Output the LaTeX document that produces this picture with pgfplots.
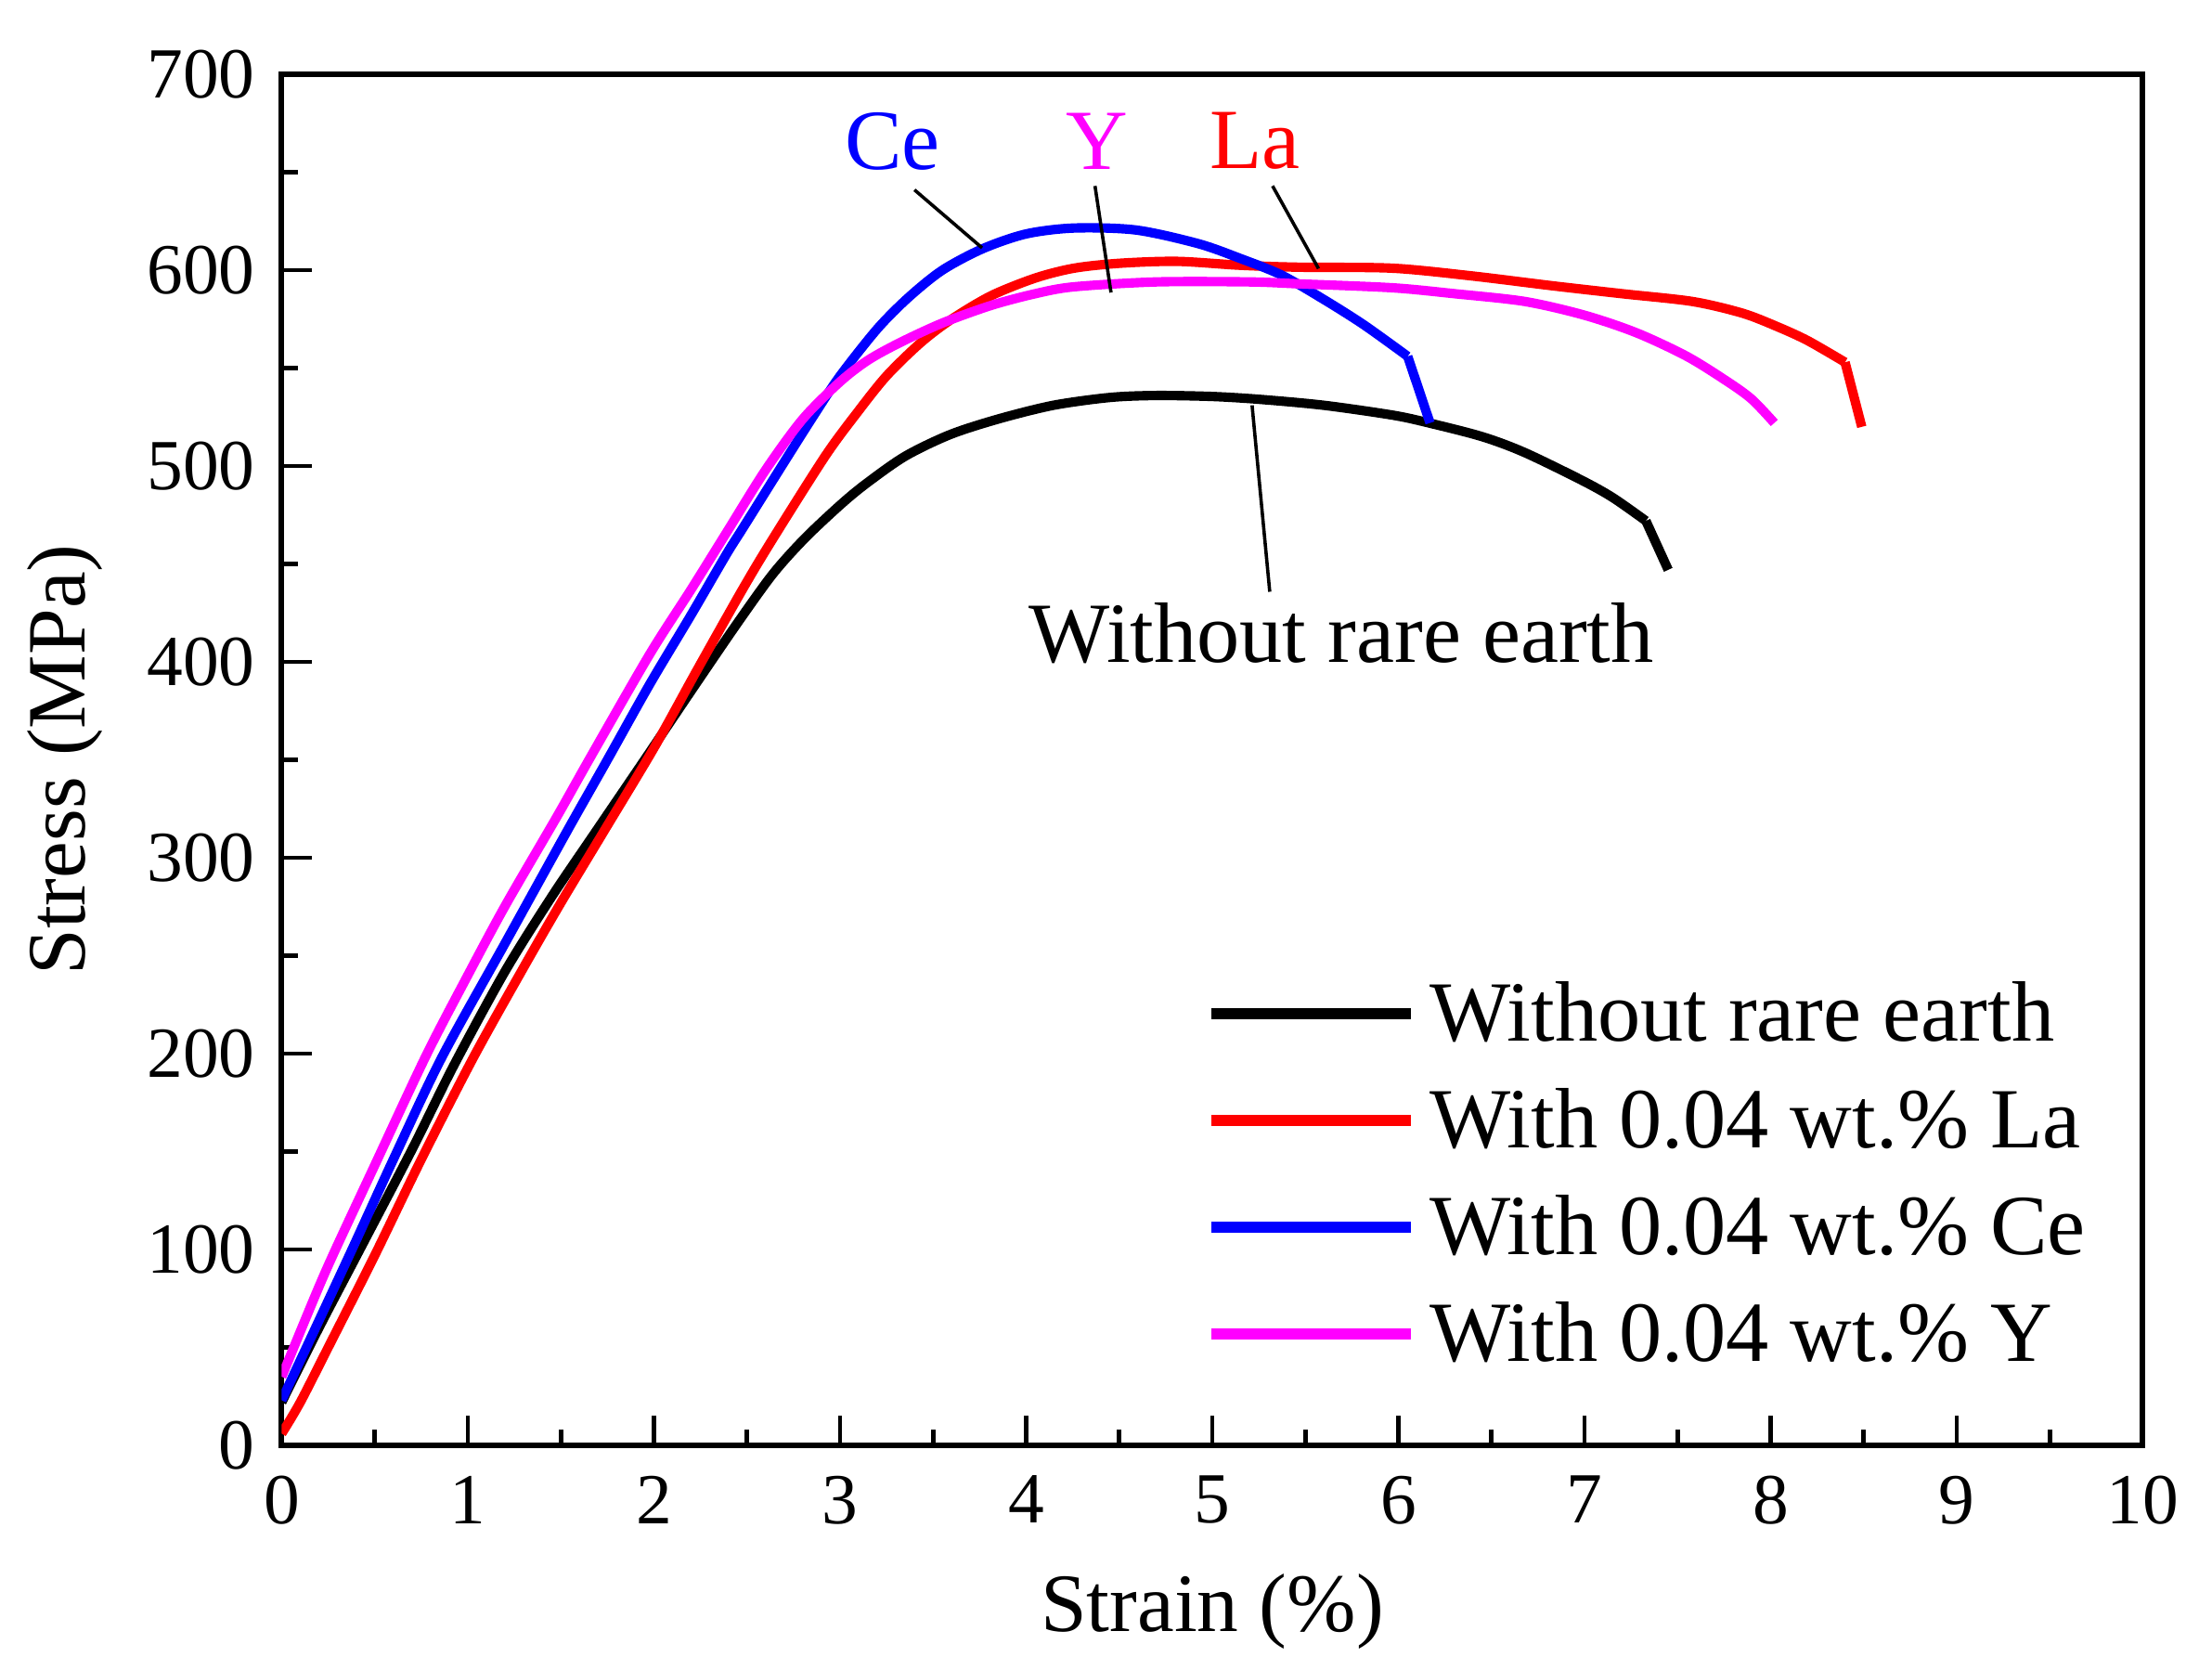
\documentclass[border=0pt]{standalone}
\usepackage{fontspec}
\setmainfont{Liberation Serif}
\usepackage{pgfplots}
\usepackage{pgfplotstable}
\pgfplotsset{compat=1.18}
\definecolor{cblack}{RGB}{0,0,0}
\definecolor{cred}{RGB}{255,0,0}
\definecolor{cblue}{RGB}{0,0,255}
\definecolor{cmag}{RGB}{255,0,255}

\pgfplotstableread{
x y
0 22
0.2 60
0.42 100
0.7 151
0.925 194
1.2 242
1.45 280
1.678 312
1.95 350
2.227 389
2.45 420
2.64 445
2.81 463
3.0 480
3.14 491
3.35 505
3.59 516
3.85 524
4.146 531
4.45 535
4.70 536
5.0 535.5
5.26 534
5.6 531
5.968 526
6.164 522
6.45 515
6.676 507
6.98 493
7.15 484
7.33 472
}\blackdata

\pgfplotstableread{
x y
0 6
0.1 22
0.25 50
0.5 97
0.75 146
1.03 198
1.3 244
1.5 277
1.728 313
2.0 356
2.227 395
2.476 437
2.64 463
2.92 505
3.09 527
3.25 546
3.434 563
3.6 575
3.813 587
4.05 596
4.257 601
4.5 603.5
4.81 604.5
5.15 602.5
5.468 601.5
5.968 601
6.4 597
6.83 592
7.2 588
7.58 584
7.85 578
8.04 571
8.2 564
8.4 553
}\reddata

\pgfplotstableread{
x y
0 23
0.187 61
0.378 100
0.6 146
0.86 198
1.204 257
1.53 313
1.75 350
1.98 389
2.2 424
2.39 455
2.476 468
2.7 502
2.86 526
3.0 546
3.2 570
3.367 586
3.55 600
3.768 611
4.0 618.5
4.257 621.5
4.59 620.5
4.926 613.5
5.15 606
5.37 597.6
5.6 585
5.816 572
6.05 556
}\bluedata

\pgfplotstableread{
x y
0 35
0.187 78
0.289 100
0.5 143
0.776 199
1.0 240
1.204 276
1.479 321
1.663 352
1.978 404
2.2 437
2.39 466
2.6 498
2.8 524
3.0 543
3.15 554
3.322 563
3.55 573
3.812 582
4.05 588
4.257 591.5
4.70 594
5.2 594
5.468 593
5.968 591
6.3 588
6.68 584
7.0 577
7.28 568
7.55 556
7.77 543
7.9 534
8.02 522
}\magdata

\begin{document}
\begin{tikzpicture}
\path[use as bounding box] (-50.94pt,-40.62pt) rectangle (349.06pt,261.35pt);
\begin{axis}[
  at={(0pt,0pt)}, anchor=south west,
  width=336.55pt, height=247.92pt, scale only axis,
  xmin=0, xmax=10, ymin=0, ymax=700,
  xtick={0,1,...,10}, ytick={0,100,...,700},
  minor x tick num=1, minor y tick num=1,
  tick pos=left, tick align=inside,
  major tick length=5.4pt, minor tick length=2.9pt,
  every tick/.style={black, line width=0.8pt},
  axis line style={line width=1pt},
  /pgf/number format/assume math mode=true,
  tick label style={font=\fontsize{13}{15}\selectfont},
  xticklabel style={yshift=-2pt},
  yticklabel style={xshift=-1.3pt},
  xlabel={Strain (\%)}, ylabel={Stress (MPa)},
  label style={font=\fontsize{15}{18}\selectfont},
  xlabel style={at={(axis description cs:0.5,-0.1355)}, anchor=base},
  ylabel style={at={(axis description cs:-0.1055,0.5)}, anchor=base},
  legend style={draw=none, fill=none, inner sep=0pt, outer sep=0pt,
    at={(axis cs:4.965,237.3)}, anchor=north west,
    row sep=4.8pt, column sep=2.4pt,
    nodes={inner sep=0pt, text height=11pt, text depth=3.5pt, font=\fontsize{15.5}{18}\selectfont}},
  legend cell align=left,
  legend image code/.code={\draw[#1, line width=2pt] (0pt,1.3pt) -- (36.1pt,1.3pt);},
  every axis plot/.append style={line width=1.7pt, line join=round},
]
\addplot[cblack, smooth, tension=0.5] table[x=x,y=y] {\blackdata};
\addlegendentry{Without rare earth}
\addplot[cred, smooth, tension=0.5] table[x=x,y=y] {\reddata};
\addlegendentry{With 0.04 wt.\% La}
\addplot[cblue, smooth, tension=0.5] table[x=x,y=y] {\bluedata};
\addlegendentry{With 0.04 wt.\% Ce}
\addplot[cmag, smooth, tension=0.5] table[x=x,y=y] {\magdata};
\addlegendentry{With 0.04 wt.\% Y}
\addplot[cblack, forget plot] coordinates {(7.33,472) (7.45,447)};
\addplot[cred, forget plot] coordinates {(8.4,553) (8.49,520)};
\addplot[cblue, forget plot] coordinates {(6.05,556) (6.17,522)};

\node[anchor=base west, inner sep=0pt, text=cblue, font=\fontsize{15.5}{18}\selectfont] at (axis cs:3.02,651.4) {Ce};
\node[anchor=base west, inner sep=0pt, text=cmag, font=\fontsize{15.5}{18}\selectfont] at (axis cs:4.21,651.4) {Y};
\node[anchor=base west, inner sep=0pt, text=cred, font=\fontsize{15.5}{18}\selectfont] at (axis cs:4.98,652) {La};
\node[anchor=base west, inner sep=0pt, font=\fontsize{15.5}{18}\selectfont] at (axis cs:4.01,400) {Without rare earth};
\draw[line width=0.6pt] (axis cs:3.40,641) -- (axis cs:3.763,611.4);
\draw[line width=0.6pt] (axis cs:4.37,643) -- (axis cs:4.456,588.6);
\draw[line width=0.6pt] (axis cs:5.324,643) -- (axis cs:5.571,600.8);
\draw[line width=0.6pt] (axis cs:5.214,531) -- (axis cs:5.309,435.8);
\end{axis}
\end{tikzpicture}
\end{document}
